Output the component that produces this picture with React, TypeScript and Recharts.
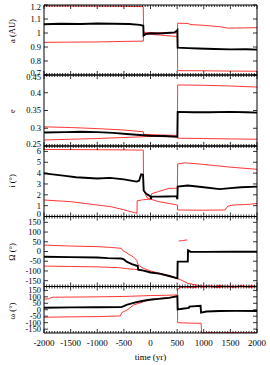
import { LineChart, Line, XAxis, YAxis } from 'recharts'

type Pt = [number, number | null]

// x axis: time (yr)
const xMajor = [-2000, -1500, -1000, -500, 0, 500, 1000, 1500, 2000]
const xMinor = Array.from({ length: 81 }, (_, i) => -2000 + 50 * i)

// a (AU)
const aBlack: Pt[] = [[-2000, 1.062], [-1700, 1.066], [-1300, 1.064], [-1000, 1.068], [-700, 1.066], [-400, 1.064], [-200, 1.058], [-135, 1.052], [-130, 0.982], [-90, 0.992], [0, 0.998], [150, 0.996], [300, 1.0], [450, 1.004], [495, 1.016], [505, 1.02], [510, 0.895], [700, 0.892], [900, 0.889], [1200, 0.886], [1500, 0.883], [1800, 0.884], [2000, 0.881]]
const aRedHi: Pt[] = [[-2000, 1.193], [-1000, 1.192], [-400, 1.19], [-135, 1.188], [-130, 1.005], [0, 1.003], [250, 1.0], [505, 1.0], [510, 1.07], [700, 1.068], [760, 1.06], [1000, 1.055], [1300, 1.045], [1450, 1.035], [1700, 1.036], [2000, 1.038]]
const aRedLo: Pt[] = [[-2000, 0.933], [-1500, 0.935], [-1000, 0.936], [-500, 0.94], [-135, 0.942], [-130, 0.995], [0, 0.99], [200, 0.985], [400, 0.978], [505, 0.975], [510, 0.731], [1000, 0.73], [1500, 0.728], [2000, 0.727]]

// e
const eBlack: Pt[] = [[-2000, 0.288], [-1600, 0.289], [-1300, 0.29], [-1000, 0.289], [-700, 0.287], [-450, 0.284], [-200, 0.281], [0, 0.279], [250, 0.278], [505, 0.276], [510, 0.346], [800, 0.345], [1100, 0.345], [1500, 0.346], [1800, 0.345], [2000, 0.344]]
const eRedHi: Pt[] = [[-2000, 0.304], [-1500, 0.302], [-1000, 0.299], [-500, 0.295], [-135, 0.29], [-130, 0.283], [200, 0.281], [505, 0.28], [510, 0.422], [1000, 0.421], [1500, 0.419], [2000, 0.416]]
const eRedLo: Pt[] = [[-2000, 0.267], [-1500, 0.269], [-1000, 0.271], [-500, 0.274], [-135, 0.276], [-130, 0.277], [505, 0.276], [510, 0.272], [1000, 0.271], [1500, 0.27], [2000, 0.269]]

// i (deg)
const iBlack: Pt[] = [[-2000, 3.98], [-1600, 3.75], [-1400, 3.62], [-1000, 3.5], [-760, 3.56], [-500, 3.42], [-260, 3.22], [-215, 3.3], [-175, 3.88], [-140, 3.85], [-128, 2.4], [-80, 2.1], [-30, 1.95], [0, 1.85], [10, 1.6], [20, 1.85], [150, 1.83], [300, 1.85], [490, 1.88], [505, 1.6], [510, 2.75], [700, 2.86], [1000, 2.7], [1300, 2.52], [1500, 2.62], [1700, 2.7], [2000, 2.75]]
const iRedHi: Pt[] = [[-2000, 6.18], [-1000, 6.16], [-500, 6.14], [-135, 6.12], [-130, 2.4], [-60, 1.7], [0, 1.6], [20, 2.1], [150, 2.3], [350, 2.6], [505, 2.6], [510, 4.85], [650, 4.95], [1000, 4.8], [1500, 4.55], [2000, 4.35]]
const iRedLo: Pt[] = [[-2000, 1.52], [-1500, 1.37], [-1000, 1.06], [-750, 0.91], [-500, 0.62], [-300, 0.35], [-255, 0.29], [-250, 1.45], [-130, 1.55], [0, 1.6], [150, 1.38], [350, 1.2], [505, 1.06], [510, 0.6], [1000, 0.58], [1400, 0.6], [1450, 0.95], [1550, 1.06], [1800, 1.1], [2000, 1.2]]

// Omega (deg)
const oBlack: Pt[] = [[-2000, -27], [-1500, -29], [-1000, -31], [-800, -34], [-550, -36], [-500, -40], [-450, -52], [-350, -65], [-240, -75], [-230, -93], [-130, -98], [0, -108], [170, -114], [350, -126], [505, -138], [510, -52], [700, -52], [705, 6], [750, -1], [1000, -2], [1500, -1], [2000, -1]]
const oRedHi: Pt[] = [[-2000, 33], [-1500, 28], [-1000, 25], [-750, 21], [-545, 16], [-520, 5], [-480, -1], [-420, -12], [-325, -27], [-260, -45], [-231, -69], [-138, -86], [0, -100], [170, -112], [350, -124], [505, -138], [600, -150], [700, -164], [850, -172], [1000, -178], [1100, -176], [1200, -179], [1300, -174], [1400, -179], [1500, -177], [1600, -180], [1700, -175], [1800, -179], [1900, -176], [2000, -179]]
const oRedLo: Pt[] = [[-2000, -75], [-1500, -77], [-1000, -79], [-600, -83], [-450, -88], [-300, -92], [-130, -98], [0, -106], [200, -117], [400, -130], [505, -140], [510, null], [530, 54], [600, 56], [690, 60]]

// omega (deg)
const wBlack: Pt[] = [[-2000, 15], [-1500, 18], [-1000, 19], [-550, 20], [-500, 28], [-450, 38], [-300, 55], [-160, 68], [-50, 75], [150, 84], [350, 92], [505, 105], [510, 3], [600, 8], [720, 14], [730, 24], [940, 30], [950, -22], [1050, -14], [1300, -10], [1600, -9], [2000, -10]]
const wRedHi: Pt[] = [[-2000, 82], [-1900, 85], [-1850, 97], [-1000, 100], [-500, 103], [-130, 108], [0, 110], [300, 112], [505, 115], [510, 160], [560, 172], [650, 176], [800, 170], [900, 178], [1000, 174], [1100, 179], [1250, 172], [1400, 178], [1550, 173], [1700, 179], [1850, 174], [2000, 177]]
const wRedLo: Pt[] = [[-2000, -58], [-1500, -55], [-1000, -53], [-565, -48], [-540, -22], [-440, -2], [-317, 37], [-130, 62], [0, 81], [505, 101], [510, -100], [700, -103], [950, -105], [960, -178], [1100, -176], [1300, -179], [1500, -175], [1700, -179], [2000, -177]]

const aTicks = [0.7, 0.8, 0.9, 1, 1.1, 1.2]
const eTicks = [0.25, 0.3, 0.35, 0.4, 0.45]
const iTicks = [0, 1, 2, 3, 4, 5, 6]
const angTicks = [-150, -100, -50, 0, 50, 100, 150]

const W = 270
const H = 365
const FONT = 'Liberation Serif, Times New Roman, DejaVu Serif, serif'

const rows = (pts: Pt[]) => pts.map(([t, v]) => ({ t, v }))

const panels = [
  { title: 'a (AU)', titleY: 31, top: 5, bottom: 75, domain: [0.7, 1.2], ticks: aTicks, series: [aRedHi, aRedLo, aBlack] },
  { title: 'e', titleY: 111, top: 75, bottom: 146, domain: [0.25, 0.45], ticks: eTicks, series: [eRedHi, eRedLo, eBlack] },
  { title: 'i (°)', titleY: 181, top: 146, bottom: 216.5, domain: [0, 6.5], ticks: iTicks, series: [iRedHi, iRedLo, iBlack] },
  { title: 'Ω (°)', titleY: 252, top: 216.5, bottom: 286.5, domain: [-180, 180], ticks: angTicks, series: [oRedHi, oRedLo, oBlack] },
  { title: 'ω (°)', titleY: 311, top: 286.5, bottom: 333, domain: [-180, 180], ticks: angTicks, series: [wRedHi, wRedLo, wBlack] },
]

const txt = { fontFamily: FONT, fill: '#000' }

function XTick(props: any) {
  const { x, y, payload, side, showLabel } = props
  const major = xMajor.includes(payload.value)
  const len = major ? 4 : 2
  const dir = side === 'top' ? 1 : -1
  return (
    <g>
      <line x1={x} x2={x} y1={y} y2={y + dir * len} stroke="#000" strokeWidth={0.8} />
      {showLabel && major && (
        <text x={x} y={y + 13} textAnchor="middle" fontSize={9} style={txt}>
          {payload.value}
        </text>
      )}
    </g>
  )
}

function YTick(props: any) {
  const { x, y, payload, side, lo, hi } = props
  const dir = side === 'left' ? 1 : -1
  let dy = 0
  if (payload.value === hi) dy = 2
  if (payload.value === lo) dy = -2
  return (
    <g>
      <line x1={x} x2={x + dir * 4} y1={y} y2={y} stroke="#000" strokeWidth={0.8} />
      {side === 'left' && (
        <text x={x - 3} y={y + dy} dy="0.35em" textAnchor="end" fontSize={8.5} style={txt}>
          {payload.value}
        </text>
      )}
    </g>
  )
}

function YTitle({ text, cy }: { text: string; cy: number }) {
  return (
    <text x={12} y={cy} transform={`rotate(-90 12 ${cy})`} textAnchor="middle" dominantBaseline="central" fontSize={8.5} style={txt}>
      {text}
    </text>
  )
}

function XTitle() {
  return (
    <text x={150.5} y={360} textAnchor="middle" fontSize={9} style={txt}>
      time (yr)
    </text>
  )
}

export default function App() {
  return (
    <div style={{ position: 'fixed', left: 0, top: 0, width: W, height: H, overflow: 'hidden', background: '#fff' }}>
      {panels.map((p, k) => {
        const last = k === panels.length - 1
        const [lo, hi] = p.domain
        return (
          <div key={p.title} style={{ position: 'absolute', left: 0, top: 0 }}>
            <LineChart width={W} height={H} margin={{ top: p.top - 1, bottom: H - p.bottom - 1, left: 0, right: 12 }}>
              <XAxis
                xAxisId="b"
                type="number"
                dataKey="t"
                orientation="bottom"
                domain={[-2000, 2000]}
                allowDataOverflow
                ticks={xMinor}
                interval={0}
                height={1}
                tickSize={0}
                tickMargin={0}
                tickLine={false}
                axisLine={{ stroke: '#000' }}
                tick={(tp: any) => <XTick {...tp} side="bottom" showLabel={last} />}
                label={last ? <XTitle /> : undefined}
              />
              <XAxis
                xAxisId="t"
                type="number"
                dataKey="t"
                orientation="top"
                domain={[-2000, 2000]}
                allowDataOverflow
                ticks={xMinor}
                interval={0}
                height={1}
                tickSize={0}
                tickMargin={0}
                tickLine={false}
                axisLine={{ stroke: '#000' }}
                tick={(tp: any) => <XTick {...tp} side="top" />}
              />
              <YAxis
                yAxisId="l"
                type="number"
                orientation="left"
                domain={p.domain}
                allowDataOverflow
                ticks={p.ticks}
                interval={0}
                width={44}
                tickSize={0}
                tickMargin={0}
                tickLine={false}
                axisLine={{ stroke: '#000' }}
                tick={(tp: any) => <YTick {...tp} side="left" lo={lo} hi={hi} />}
                label={<YTitle text={p.title} cy={p.titleY} />}
              />
              <YAxis
                yAxisId="r"
                type="number"
                orientation="right"
                domain={p.domain}
                allowDataOverflow
                ticks={p.ticks}
                interval={0}
                width={1}
                tickSize={0}
                tickMargin={0}
                tickLine={false}
                axisLine={{ stroke: '#000' }}
                tick={(tp: any) => <YTick {...tp} side="right" />}
              />
              {p.series.map((s, j) => {
                const black = j === 2
                return (
                  <Line
                    key={j}
                    xAxisId="b"
                    yAxisId="l"
                    data={rows(s)}
                    dataKey="v"
                    type="linear"
                    stroke={black ? '#000' : '#ff2020'}
                    strokeWidth={black ? 1.9 : 0.9}
                    dot={false}
                    connectNulls={false}
                    isAnimationActive={false}
                  />
                )
              })}
            </LineChart>
          </div>
        )
      })}
    </div>
  )
}
